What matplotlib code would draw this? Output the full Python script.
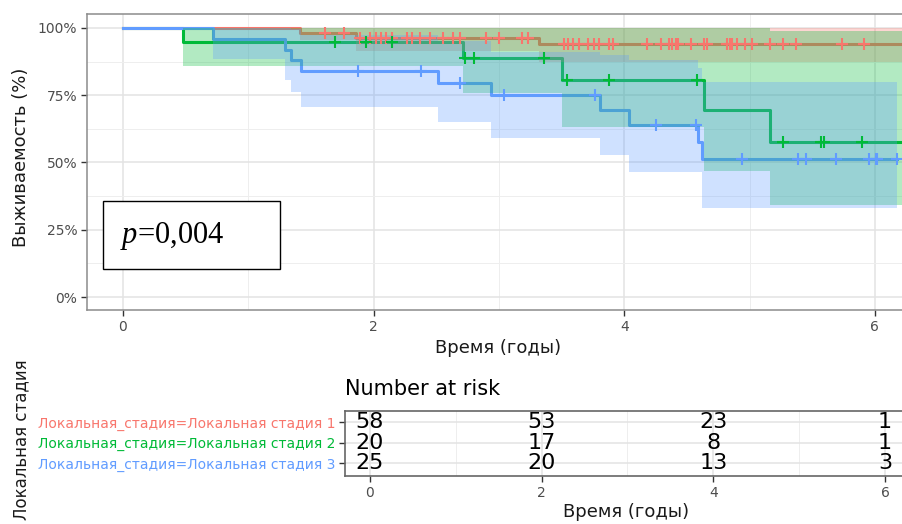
import numpy as np
import matplotlib
matplotlib.use('Agg')
import matplotlib.pyplot as plt
from matplotlib.patches import Rectangle

plt.rcParams['font.family'] = ['DejaVu Sans']
plt.rcParams['mathtext.fontset'] = 'custom'
plt.rcParams['mathtext.rm'] = 'Liberation Serif'
plt.rcParams['mathtext.it'] = 'Liberation Serif:italic'

# --- data ---
colors = ['#F8766D', '#00BA38', '#619CFF']
strata = ['Локальная_стадия=Локальная стадия 1',
          'Локальная_стадия=Локальная стадия 2',
          'Локальная_стадия=Локальная стадия 3']

red_t = [0, 1.41, 1.86, 3.32, 6.25]
red_s = [100, 98.3, 96.2, 93.9, 93.9]
red_lo = [100, 95.5, 91.5, 87.5, 87.5]
red_hi = [100, 100, 100, 100, 100]
red_cens = [1.61, 1.76, 1.89, 1.97, 2.02, 2.06, 2.10, 2.15, 2.27, 2.31, 2.37, 2.45,
            2.55, 2.63, 2.69, 2.90, 3.00, 3.18, 3.23, 3.52, 3.55, 3.59, 3.64, 3.71,
            3.76, 3.80, 3.88, 3.91, 4.18, 4.29, 4.36, 4.38, 4.41, 4.43, 4.53, 4.64,
            4.66, 4.82, 4.84, 4.86, 4.90, 4.96, 5.02, 5.16, 5.27, 5.37, 5.74, 5.91]

green_t = [0, 0.48, 2.71, 3.50, 4.64, 5.16, 6.25]
green_s = [100, 94.7, 89.0, 80.7, 69.5, 57.7, 57.7]
green_lo = [100, 86.0, 76.0, 63.3, 47.0, 34.2, 34.2]
green_hi = [100, 100, 100, 100, 100, 99.0, 99.0]
green_cens = [1.69, 1.94, 2.15, 2.73, 2.80, 3.36, 3.54, 3.88, 4.58, 5.27, 5.57, 5.59, 5.90]

blue_t = [0, 0.72, 1.29, 1.34, 1.42, 2.51, 2.94, 3.81, 4.04, 4.59, 4.62, 6.18]
blue_s = [100, 96.0, 92.0, 88.0, 84.0, 79.4, 75.0, 69.5, 64.0, 57.7, 51.2, 51.2]
blue_lo = [100, 88.4, 80.5, 76.3, 70.5, 65.2, 59.0, 52.8, 46.6, 46.6, 33.0, 33.0]
blue_hi = [100, 100, 100, 99.5, 97.5, 95.0, 91.2, 90.0, 88.0, 85.0, 80.0, 80.0]
blue_cens = [1.875, 2.38, 2.69, 3.04, 3.77, 4.25, 4.57, 4.94, 5.39, 5.45, 5.69,
             5.95, 6.01, 6.02, 6.18]

risk_times = [0, 2, 4, 6]
risk_1 = [58, 53, 23, 1]
risk_2 = [20, 17, 8, 1]
risk_3 = [25, 20, 13, 3]

curves = [(red_t, red_s, red_lo, red_hi, red_cens),
          (green_t, green_s, green_lo, green_hi, green_cens),
          (blue_t, blue_s, blue_lo, blue_hi, blue_cens)]

W, H = 902, 524
fig = plt.figure(figsize=(W / 100, H / 100), dpi=100)

def style_axes(a):
    for s in a.spines.values():
        s.set_color('#8C8C8C')
        s.set_linewidth(1.1)
    a.tick_params(which='major', length=4, width=1, color='#333333',
                  labelcolor='#4D4D4D', labelsize=10, pad=3)
    a.tick_params(which='minor', length=0)
    a.grid(True, which='major', color='#E3E3E3', lw=1.1)
    a.grid(True, which='minor', color='#EEEEEE', lw=0.7)
    a.set_axisbelow(True)

# --- survival panel ---
ax = fig.add_axes([87 / W, 1 - 310 / H, 817 / W, 296 / H])
style_axes(ax)
ax.set_xlim(-0.287, 6.232)
ax.set_ylim(-4.83, 105.2)
ax.set_xticks([0, 2, 4, 6])
ax.set_xticks([1, 3, 5], minor=True)
ax.set_yticks([0, 25, 50, 75, 100])
ax.set_yticklabels(['0%', '25%', '50%', '75%', '100%'])
ax.set_yticks([12.5, 37.5, 62.5, 87.5], minor=True)

for (t, s, lo, hi, cens), c in zip(curves, colors):
    ax.step(t, s, where='post', color=c, lw=2.2, zorder=2)
for (t, s, lo, hi, cens), c in zip(curves, colors):
    ax.fill_between(t, lo, hi, step='post', color=c, alpha=0.3, lw=0, zorder=3)
for (t, s, lo, hi, cens), c in zip(curves, colors):
    idx = np.searchsorted(t, cens, side='right') - 1
    ax.plot(cens, np.asarray(s)[idx], ls='none', marker='+', ms=9, mew=1.5,
            color=c, zorder=4)

fig.text(21 / W, 1 - 157 / H, 'Выживаемость (%)', rotation=90, ha='center',
         va='center', fontsize=13, color='#1A1A1A')
fig.text(498 / W, 1 - 348 / H, 'Время (годы)', ha='center', va='center',
         fontsize=13, color='#1A1A1A')

fig.patches.append(Rectangle((103 / W, 1 - 269 / H), 177 / W, 68 / H,
                             transform=fig.transFigure, fill=True, fc='white',
                             ec='black', lw=1.0, zorder=5))
fig.text(120 / W, 1 - 243 / H, r'$p$=0,004', family='Liberation Serif',
         fontsize=22, va='baseline', ha='left', zorder=6)

# --- risk table ---
ax2 = fig.add_axes([345 / W, 1 - 476 / H, 559 / W, 65 / H])
style_axes(ax2)
for s in ax2.spines.values():
    s.set_color('#666666')
    s.set_linewidth(1.2)
ax2.set_xlim(-0.291, 6.222)
ax2.set_ylim(0.38, 3.55)
ax2.set_xticks(risk_times)
ax2.set_xticks([1, 3, 5], minor=True)
ax2.set_yticks([3, 2, 1])
ax2.set_yticklabels(strata)
for lbl, c in zip(ax2.get_yticklabels(), colors):
    lbl.set_color(c)
ax2.tick_params(axis='y', labelsize=10)

for row, counts in zip([3, 2, 1], [risk_1, risk_2, risk_3]):
    for t, n in zip(risk_times, counts):
        ax2.text(t, row, str(n), ha='center', va='center', fontsize=16,
                 color='black')

fig.text(345 / W, 1 - 395 / H, 'Number at risk', fontsize=15, va='baseline',
         ha='left', color='black')
fig.text(21 / W, 1 - 440 / H, 'Локальная стадия', rotation=90, ha='center',
         va='center', fontsize=12, color='#1A1A1A')
fig.text(626 / W, 1 - 512 / H, 'Время (годы)', ha='center', va='center',
         fontsize=13, color='#1A1A1A')

fig.savefig('out.png', dpi=100)
